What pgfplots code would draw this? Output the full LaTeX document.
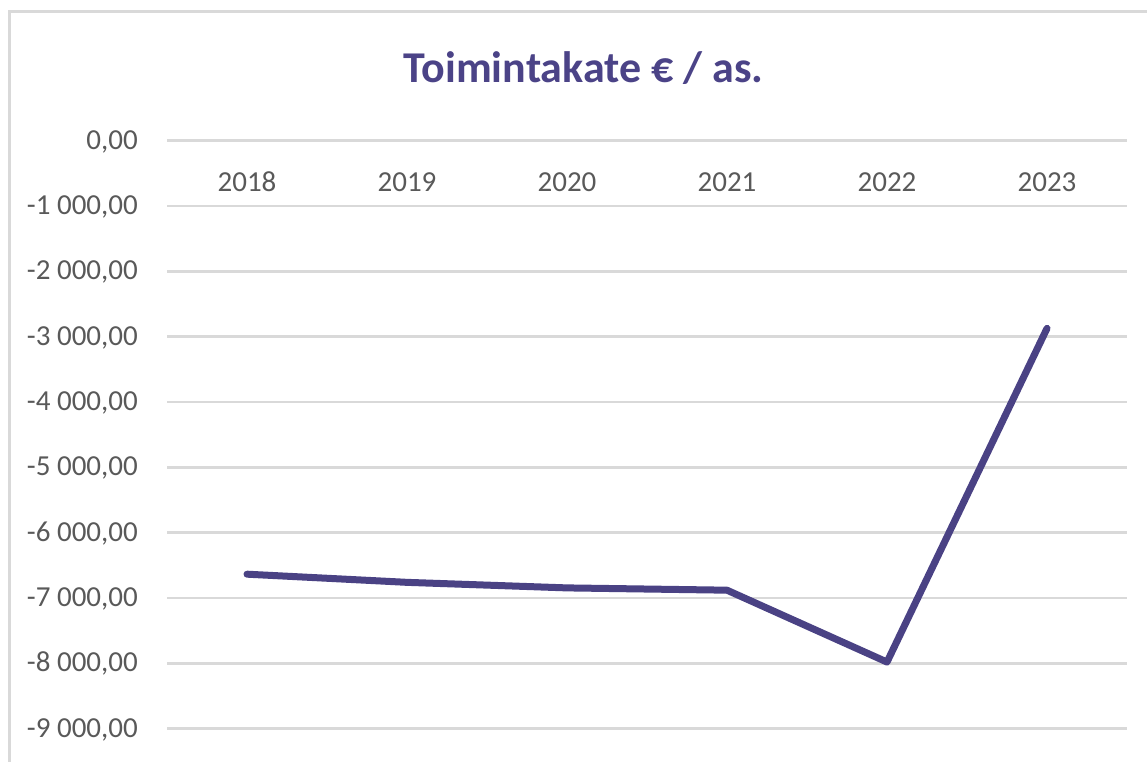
\documentclass[border=0pt]{standalone}
\usepackage{pgfplots}
\pgfplotsset{compat=1.18}
\usepackage{fontspec}
\setmainfont{Carlito}
\definecolor{linepurple}{HTML}{4A4284}
\definecolor{titlepurple}{HTML}{4B4387}
\definecolor{tickgray}{HTML}{595959}
\definecolor{gridgray}{HTML}{D9D9D9}
\begin{document}
\begin{tikzpicture}[x=1bp,y=1bp]
\useasboundingbox (0,0) rectangle (1147,762);
\begin{scope}
\clip (0,0) rectangle (1147,762);
\draw[gridgray, line width=3bp] (9.5,-20) -- (9.5,750.5) -- (1200,750.5);
\end{scope}
\node[anchor=base, inner sep=0pt, text=titlepurple, font=\fontsize{44bp}{50bp}\selectfont\bfseries] at (583.5,679) {Toimintakate € / as.};
\begin{axis}[
  at={(167bp,33.3bp)}, anchor=south west, scale only axis,
  width=960bp, height=588bp,
  xmin=-0.5, xmax=5.5, ymin=-9000, ymax=0,
  axis line style={draw=none},
  major tick length=0pt,
  tick style={draw=none},
  xtick={0,1,2,3,4,5},
  xticklabels={2018,2019,2020,2021,2022,2023},
  ytick={-9000,-8000,-7000,-6000,-5000,-4000,-3000,-2000,-1000,0},
  yticklabels={{-9 000,00},{-8 000,00},{-7 000,00},{-6 000,00},{-5 000,00},{-4 000,00},{-3 000,00},{-2 000,00},{-1 000,00},{0,00}},
  ymajorgrids,
  grid style={gridgray, line width=2.5bp},
  yticklabel style={anchor=base east, inner sep=0pt, xshift=-29bp, yshift=-8.6bp, text=tickgray, font=\fontsize{29bp}{34bp}\selectfont},
  xticklabel style={anchor=base, inner sep=0pt, yshift=536.7bp, text=tickgray, font=\fontsize{29bp}{34bp}\selectfont},
  clip=false,
]
\addplot[linepurple, line width=7bp, line cap=round, line join=round, mark=none]
  coordinates {(0,-6635) (1,-6760) (2,-6845) (3,-6880) (4,-7980) (5,-2873)};
\end{axis}
\end{tikzpicture}
\end{document}
